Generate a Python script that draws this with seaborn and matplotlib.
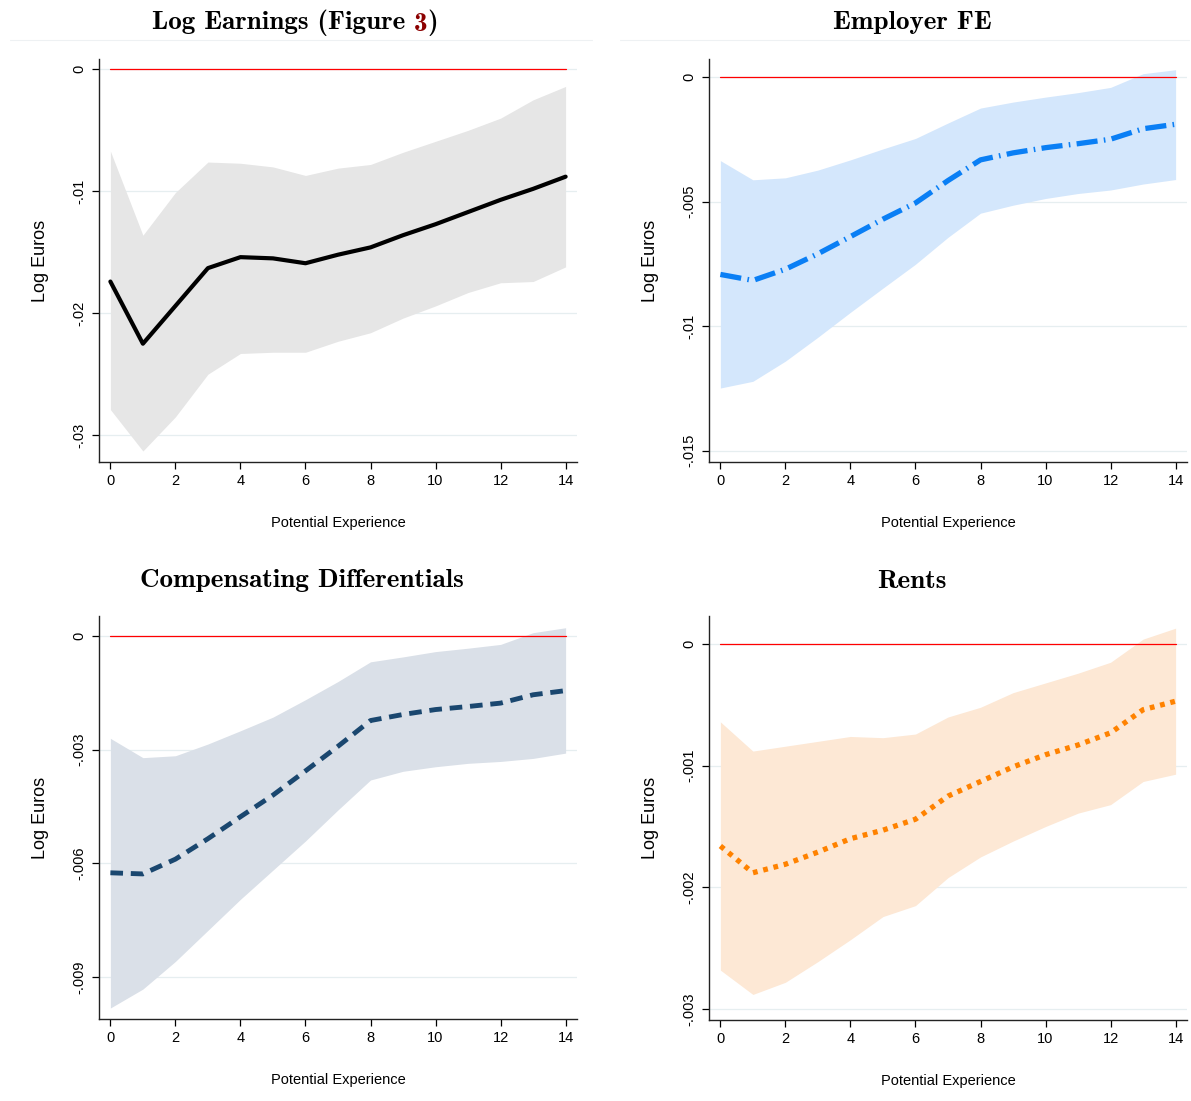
import numpy as np
import pandas as pd
import matplotlib
matplotlib.use("Agg")
import matplotlib.pyplot as plt
import seaborn as sns
from matplotlib.lines import Line2D

sns.set_style("white")
plt.rcParams['font.family'] = ['Liberation Sans', 'DejaVu Sans']
plt.rcParams['text.color'] = 'black'
plt.rcParams['axes.labelcolor'] = 'black'

# data
exper = list(range(15))

earn = [-0.0174, -0.0225, -0.0194, -0.0163, -0.0154, -0.0155, -0.0159, -0.0152, -0.0146,
        -0.0136, -0.0127, -0.0117, -0.0107, -0.0098, -0.0088]
earn_hi = [-0.0067, -0.0136, -0.0101, -0.0076, -0.0077, -0.0080, -0.0087, -0.0081, -0.0078,
           -0.0068, -0.0059, -0.0050, -0.0040, -0.0025, -0.0014]
earn_lo = [-0.0279, -0.0313, -0.0285, -0.0250, -0.0233, -0.0232, -0.0232, -0.0223, -0.0216,
           -0.0204, -0.0194, -0.0183, -0.0175, -0.0174, -0.0162]

fe = [-0.00792, -0.00816, -0.00771, -0.00709, -0.00640, -0.00570, -0.00505, -0.00415, -0.00332,
      -0.00304, -0.00283, -0.00267, -0.00249, -0.00207, -0.00189]
fe_hi = [-0.00335, -0.00412, -0.00404, -0.00373, -0.00332, -0.00288, -0.00246, -0.00184, -0.00124,
         -0.00100, -0.00080, -0.00062, -0.00041, 0.00014, 0.00030]
fe_lo = [-0.01248, -0.01221, -0.01140, -0.01044, -0.00944, -0.00847, -0.00751, -0.00643, -0.00546,
         -0.00514, -0.00487, -0.00467, -0.00453, -0.00429, -0.00411]

comp = [-0.00625, -0.00628, -0.00589, -0.00535, -0.00477, -0.00420, -0.00356, -0.00291, -0.00223,
        -0.00207, -0.00194, -0.00186, -0.00177, -0.00155, -0.00144]
comp_hi = [-0.00270, -0.00321, -0.00316, -0.00285, -0.00250, -0.00214, -0.00168, -0.00120, -0.00068,
           -0.00055, -0.00041, -0.00032, -0.00022, 0.00009, 0.00022]
comp_lo = [-0.00982, -0.00932, -0.00859, -0.00777, -0.00695, -0.00618, -0.00541, -0.00459, -0.00380,
           -0.00357, -0.00345, -0.00336, -0.00331, -0.00323, -0.00309]

rents = [-0.00166, -0.00188, -0.00181, -0.00171, -0.00160, -0.00153, -0.00144, -0.00125, -0.00113,
         -0.00101, -0.00091, -0.00083, -0.00073, -0.00054, -0.00047]
rents_hi = [-0.00064, -0.00088, -0.00084, -0.00080, -0.00076, -0.00077, -0.00074, -0.00060, -0.00052,
            -0.00040, -0.00032, -0.00024, -0.00015, 0.00004, 0.00013]
rents_lo = [-0.00268, -0.00288, -0.00278, -0.00261, -0.00243, -0.00224, -0.00215, -0.00192, -0.00175,
            -0.00162, -0.00150, -0.00139, -0.00132, -0.00113, -0.00107]

ticks_earn = [0, -0.01, -0.02, -0.03]
labels_earn = ['0', '-.01', '-.02', '-.03']
ticks_fe = [0, -0.005, -0.01, -0.015]
labels_fe = ['0', '-.005', '-.01', '-.015']
ticks_comp = [0, -0.003, -0.006, -0.009]
labels_comp = ['0', '-.003', '-.006', '-.009']
ticks_rents = [0, -0.001, -0.002, -0.003]
labels_rents = ['0', '-.001', '-.002', '-.003']

W, H = 1191, 1101
fig = plt.figure(figsize=(W / 100, H / 100), dpi=100)


def box(l, t, r, b):
    return [l / W, 1 - b / H, (r - l) / W, (b - t) / H]


panels = [
    dict(pos=box(99, 59, 577, 462), y=earn, lo=earn_lo, hi=earn_hi, band='#e6e6e6',
         color='black', ls='-', lw=3.0, ylim=(-0.0322, 0.00085), ticks=ticks_earn, labels=labels_earn),
    dict(pos=box(709, 59, 1187, 462), y=fe, lo=fe_lo, hi=fe_hi, band='#d4e7fc',
         color='#0a7ff5', ls=(0, (4, 1.2, 0.3, 1.2)), lw=3.8, ylim=(-0.01545, 0.00073),
         ticks=ticks_fe, labels=labels_fe),
    dict(pos=box(99, 616, 577, 1019), y=comp, lo=comp_lo, hi=comp_hi, band='#dae0e8',
         color='#1a476f', ls=(0, (2.6, 1.6)), lw=3.5, ylim=(-0.01011, 0.00053),
         ticks=ticks_comp, labels=labels_comp),
    dict(pos=box(709, 616, 1187, 1020), y=rents, lo=rents_lo, hi=rents_hi, band='#fde8d5',
         color='#ff8200', ls=(0, (0.9, 1.1)), lw=3.8, ylim=(-0.00309, 0.00023),
         ticks=ticks_rents, labels=labels_rents),
]

for p in panels:
    ax = fig.add_axes(p['pos'])
    df = pd.DataFrame({'x': exper, 'y': p['y']})
    ax.fill_between(exper, p['lo'], p['hi'], color=p['band'], lw=0, zorder=1)
    ax.axhline(0, xmin=0.35 / 14.7, xmax=14.35 / 14.7, color='#ff0000', lw=0.9, zorder=2)
    sns.lineplot(data=df, x='x', y='y', ax=ax, color=p['color'], lw=p['lw'],
                 linestyle=p['ls'], zorder=3)
    ax.set_xlim(-0.35, 14.35)
    ax.set_ylim(*p['ylim'])
    ax.set_xticks(range(0, 15, 2))
    ax.set_yticks(p['ticks'])
    ax.set_yticklabels(p['labels'], rotation=90, va='center')
    ax.tick_params(axis='both', labelsize=10.5, length=5, width=0.9, direction='out',
                   bottom=True, left=True, colors='black')
    ax.tick_params(axis='y', pad=4)
    ax.grid(axis='y', color='#e6eef0', lw=0.9)
    ax.grid(axis='x', visible=False)
    for s in ['top', 'right']:
        ax.spines[s].set_visible(False)
    for s in ['left', 'bottom']:
        ax.spines[s].set_color('#222222')
        ax.spines[s].set_linewidth(1.0)
    ax.set_xlabel('Potential Experience', fontsize=10.5, labelpad=20)
    ax.set_ylabel('Log Euros', fontsize=13, labelpad=17)

# titles
tfont = dict(family='cmb10', fontsize=19.5, color='black')
t1 = fig.text(152 / W, 1 - 23 / H, 'Log Earnings (Figure ', va='center', ha='left', **tfont)
t2 = fig.text(0, 0, '3', va='bottom', ha='left', family='cmb10', fontsize=19.5, color='#8b0000')
t3 = fig.text(0, 0, ')', va='bottom', ha='left', **tfont)
fig.canvas.draw()
r = fig.canvas.get_renderer()
bb1 = t1.get_window_extent(r).transformed(fig.transFigure.inverted())
t2.set_position((bb1.x1, bb1.y0))
fig.canvas.draw()
bb2 = t2.get_window_extent(r).transformed(fig.transFigure.inverted())
t3.set_position((bb2.x1, bb1.y0))

fig.text(912 / W, 1 - 23 / H, 'Employer FE', ha='center', va='center', **tfont)
fig.text(302 / W, 1 - 581 / H, 'Compensating Differentials', ha='center', va='center', **tfont)
fig.text(912 / W, 1 - 581 / H, 'Rents', ha='center', va='center', **tfont)

# thin separators under the top titles
fig.add_artist(Line2D([10 / W, 592 / W], [1 - 40 / H] * 2, color='#eef1f3', lw=0.8))
fig.add_artist(Line2D([620 / W, 1189 / W], [1 - 40 / H] * 2, color='#eef1f3', lw=0.8))

fig.savefig('out.png', dpi=100)
